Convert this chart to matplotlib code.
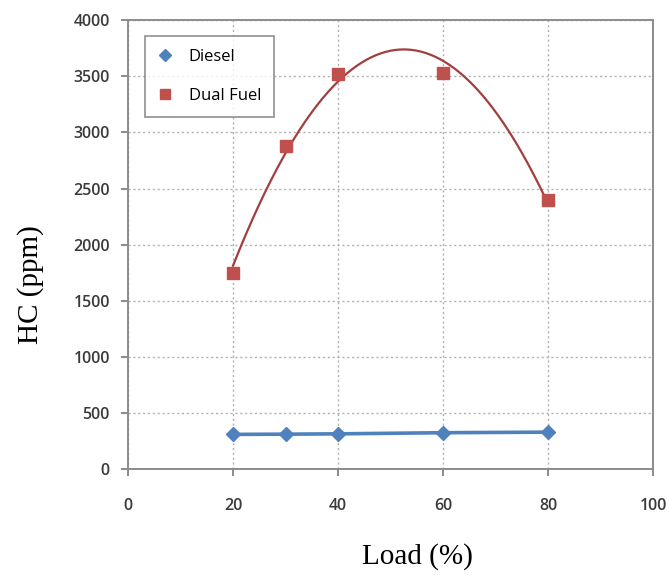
import numpy as np
import matplotlib
matplotlib.use("Agg")
import matplotlib.pyplot as plt
from matplotlib.lines import Line2D

# Engine load (%) and hydrocarbon emissions (ppm)
load = [20, 30, 40, 60, 80]
hc_diesel = [310, 312, 315, 325, 330]
hc_dual = [1750, 2880, 3520, 3530, 2400]

x_ticks = [0, 20, 40, 60, 80, 100]
y_ticks = [0, 500, 1000, 1500, 2000, 2500, 3000, 3500, 4000]

blue = "#4F81BD"
red = "#C0504D"

fig = plt.figure(figsize=(6.7, 5.75), dpi=100)
ax = fig.add_axes([0.191, 0.184, 0.784, 0.781])

tick_font = {"family": ["Open Sans", "DejaVu Sans"], "size": 11.5,
             "weight": "semibold"}

# Diesel series with connecting line
ax.plot(load, hc_diesel, color=blue, lw=2.6, marker="D", ms=7,
        mfc=blue, mec=blue, zorder=3)

# Dual fuel points with polynomial trendline
ax.plot(load, hc_dual, ls="none", marker="s", ms=8, mfc=red, mec=red,
        zorder=4)
coef = np.polyfit(load, hc_dual, 2)
xs = np.linspace(min(load), max(load), 200)
ax.plot(xs, np.polyval(coef, xs), color="#A0403E", lw=1.6, zorder=3)

ax.set_xlim(0, 100)
ax.set_ylim(0, 4000)
ax.set_xticks(x_ticks)
ax.set_yticks(y_ticks)
ax.set_xticklabels([str(v) for v in x_ticks], fontdict=tick_font, color="#3A3A3A")
ax.set_yticklabels([str(v) for v in y_ticks], fontdict=tick_font, color="#3A3A3A")
ax.tick_params(direction="out", length=5, width=1.2, color="#777777")
ax.tick_params(axis="x", pad=16)
ax.tick_params(axis="y", pad=8)

ax.grid(True, ls=(0, (1.5, 2)), color="#B0B0B0", lw=1.0)
ax.set_axisbelow(True)
for s in ax.spines.values():
    s.set_color("#8C8C8C")
    s.set_linewidth(1.4)

handles = [
    Line2D([], [], ls="none", marker="D", ms=6, color=blue),
    Line2D([], [], ls="none", marker="s", ms=7, color=red),
]
leg = ax.legend(handles, ["Diesel", "Dual Fuel"], loc="upper left",
                bbox_to_anchor=(0.033, 0.965), frameon=True,
                fancybox=False, edgecolor="#7F7F7F", borderpad=0.8,
                labelspacing=1.35, handlelength=0.8, handletextpad=1.0,
                borderaxespad=0.0,
                prop={"family": ["Open Sans", "DejaVu Sans"], "size": 12})
leg.get_frame().set_linewidth(1.3)

fig.text(0.045, 0.505, "HC (ppm)", rotation=90, ha="center", va="center",
         family=["Liberation Serif", "DejaVu Serif"], fontsize=21)
fig.text(0.623, 0.032, "Load (%)", ha="center", va="center",
         family=["Liberation Serif", "DejaVu Serif"], fontsize=21)

fig.savefig("out.png", dpi=100)
